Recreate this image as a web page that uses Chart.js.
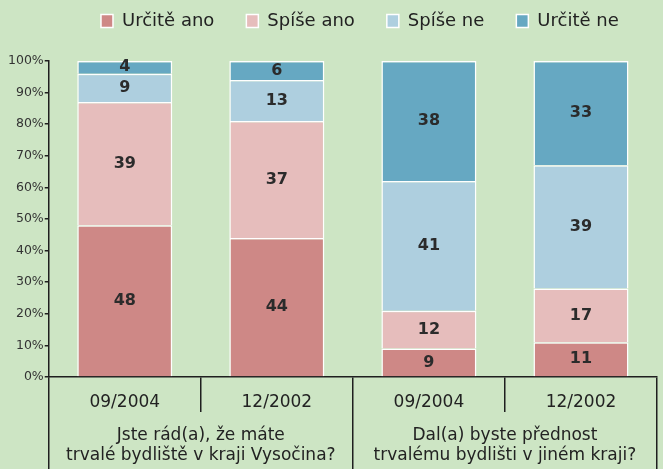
<!DOCTYPE html>
<html>
<head>
<meta charset="utf-8">
<script src="https://cdn.jsdelivr.net/npm/chart.js@4.4.0/dist/chart.umd.min.js"></script>
<style>
    body { margin: 0; background: #cde5c4; }
    canvas { display: block; }
</style>
</head>
<body>
<canvas id="surveyChart" width="663" height="469"></canvas>
<script>
// Survey periods (x axis) and the two questions grouping them
const periods = ['09/2004', '12/2002', '09/2004', '12/2002'];
const questions = [
    ['Jste rád(a), že máte', 'trvalé bydliště v kraji Vysočina?'],
    ['Dal(a) byste přednost', 'trvalému bydlišti v jiném kraji?']
];

// Answers (percent)
const answerNames = ['Určitě ano', 'Spíše ano', 'Spíše ne', 'Určitě ne'];
const urciteAno = [48, 44, 9, 11];
const spiseAno = [39, 37, 12, 17];
const spiseNe = [9, 13, 41, 39];
const urciteNe = [4, 6, 38, 33];
const answerColors = ['#ce8886', '#e6bdbc', '#aecfdf', '#66a8c2'];

const axisColor = '#1f1f1f';
const textColor = '#222';

Chart.defaults.font.family = '"DejaVu Sans", Verdana, sans-serif';
Chart.defaults.color = textColor;

// Extra room under the legend, and nudge it a bit to the right
const legendSpacer = {
    id: 'legendSpacer',
    beforeInit(chart) {
        const legend = chart.legend;
        const origFit = legend.fit;
        const origDraw = legend.draw;
        legend.fit = function () {
            origFit.call(this);
            this.height += 21;
        };
        legend.draw = function () {
            this.ctx.save();
            this.ctx.translate(7, 0);
            origDraw.call(this);
            this.ctx.restore();
        };
    }
};

// Value labels in the middle of each segment
const segmentLabels = {
    id: 'segmentLabels',
    afterDatasetsDraw(chart) {
        const ctx = chart.ctx;
        ctx.save();
        ctx.font = 'bold 16px "DejaVu Sans"';
        ctx.fillStyle = '#2b2b2b';
        ctx.textAlign = 'center';
        ctx.textBaseline = 'middle';
        chart.data.datasets.forEach((ds, i) => {
            chart.getDatasetMeta(i).data.forEach((bar, j) => {
                ctx.fillText(ds.data[j], bar.x, (bar.y + bar.base) / 2);
            });
        });
        ctx.restore();
    }
};

const seriesData = [urciteAno, spiseAno, spiseNe, urciteNe];

new Chart(document.getElementById('surveyChart'), {
    type: 'bar',
    data: {
        labels: periods,
        datasets: answerNames.map((name, i) => ({
            label: name,
            data: seriesData[i],
            backgroundColor: answerColors[i],
            borderColor: '#ffffff',
            borderWidth: 1.5,
            borderSkipped: 'start',
            barPercentage: 0.625,
            categoryPercentage: 1
        }))
    },
    options: {
        responsive: false,
        animation: false,
        layout: {
            padding: { left: 7, right: 6, top: -20, bottom: 0 }
        },
        plugins: {
            legend: {
                position: 'top',
                fullSize: false,
                labels: {
                    boxWidth: 12,
                    boxHeight: 13,
                    padding: 32,
                    color: textColor,
                    font: { size: 18 }
                }
            },
            tooltip: { enabled: false }
        },
        scales: {
            x: {
                stacked: true,
                weight: 0,
                grid: {
                    drawOnChartArea: false,
                    offset: true,
                    tickLength: 35,
                    color: axisColor,
                    lineWidth: 1.5
                },
                border: { color: axisColor, width: 1.5 },
                ticks: {
                    padding: -20,
                    autoSkip: false,
                    maxRotation: 0,
                    font: { size: 17 },
                    color: textColor
                },
                afterFit: scale => { scale.height = 35; }
            },
            x2: {
                type: 'category',
                position: 'bottom',
                weight: 1,
                labels: questions,
                offset: true,
                grid: {
                    drawOnChartArea: false,
                    offset: true,
                    tickLength: 57,
                    color: axisColor,
                    lineWidth: 1.5
                },
                border: { display: false },
                ticks: {
                    padding: -44,
                    autoSkip: false,
                    maxRotation: 0,
                    font: { size: 17 },
                    color: textColor
                },
                afterFit: scale => { scale.height = 57; }
            },
            y: {
                stacked: true,
                min: 0,
                max: 100,
                grid: {
                    drawOnChartArea: false,
                    tickLength: 4,
                    color: axisColor,
                    lineWidth: 1.5
                },
                border: { color: axisColor, width: 1.5 },
                ticks: {
                    stepSize: 10,
                    padding: 1,
                    font: { size: 12.5 },
                    color: '#333',
                    callback: value => value + '%'
                }
            }
        }
    },
    plugins: [legendSpacer, segmentLabels]
});
</script>
</body>
</html>
